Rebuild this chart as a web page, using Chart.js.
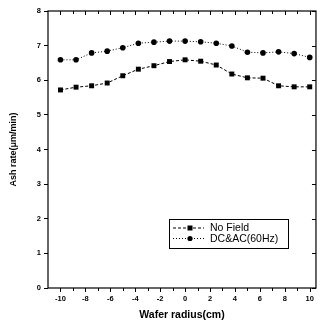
<!DOCTYPE html>
<html>
<head>
<meta charset="utf-8">
<script src="https://cdn.jsdelivr.net/npm/chart.js@4/dist/chart.umd.min.js"></script>
<style>
  html, body { margin: 0; padding: 0; background: #fff; }
  #wrap { width: 320px; height: 324px; position: relative; }
</style>
</head>
<body>
<div id="wrap"><canvas id="ashChart" width="320" height="324"></canvas></div>
<script>
// wafer radius positions (cm)
const radius = [-10, -8.75, -7.5, -6.25, -5, -3.75, -2.5, -1.25, 0, 1.25, 2.5, 3.75, 5, 6.25, 7.5, 8.75, 10];
// ash rate (um/min)
const noField = [5.72, 5.80, 5.84, 5.92, 6.13, 6.32, 6.42, 6.54, 6.59, 6.55, 6.44, 6.18, 6.07, 6.06, 5.84, 5.81, 5.81];
const dcAc = [6.59, 6.59, 6.79, 6.84, 6.94, 7.07, 7.10, 7.13, 7.13, 7.11, 7.07, 6.99, 6.81, 6.79, 6.82, 6.77, 6.66];
const seriesNames = ['No Field', 'DC&AC(60Hz)'];
const xTickValues = [-10, -9, -8, -7, -6, -5, -4, -3, -2, -1, 0, 1, 2, 3, 4, 5, 6, 7, 8, 9, 10];
const yTickValues = [0, 1, 2, 3, 4, 5, 6, 7, 8];

function toPoints(xs, ys) {
    let pts = [];
    for (let i = 0; i < xs.length; i++) {
        pts.push({ x: xs[i], y: ys[i] });
    }
    return pts;
}

/* frame, ticks and the legend box */
const framePlugin = {
    id: 'frame',
    afterDraw: function (chart) {
        const ctx = chart.ctx;
        const a = chart.chartArea;
        const xs = chart.scales.x;
        const ys = chart.scales.y;
        ctx.save();
        ctx.strokeStyle = '#000';
        ctx.lineWidth = 1.2;
        ctx.strokeRect(a.left, a.top, a.right - a.left, a.bottom - a.top);

        ctx.lineWidth = 1;
        ctx.beginPath();
        xTickValues.forEach(function (v) {
            const px = Math.round(xs.getPixelForValue(v)) + 0.5;
            const len = (v % 2 === 0) ? 4 : 3;
            ctx.moveTo(px, a.bottom);
            ctx.lineTo(px, a.bottom + len);
            ctx.moveTo(px, a.top);
            ctx.lineTo(px, a.top + len);
        });
        yTickValues.forEach(function (v) {
            const py = Math.round(ys.getPixelForValue(v)) + 0.5;
            ctx.moveTo(a.right, py);
            ctx.lineTo(a.right - 4, py);
        });
        ctx.stroke();

        // legend
        const bx = 169, by = 219, bw = 119, bh = 29;
        ctx.lineWidth = 1;
        ctx.strokeRect(bx + 0.5, by + 0.5, bw, bh);
        ctx.font = '10.5px "Liberation Sans", Arial, sans-serif';
        ctx.textBaseline = 'middle';
        ctx.fillStyle = '#000';
        chart.data.datasets.forEach(function (ds, i) {
            const ly = by + 9 + i * 10.5;
            ctx.setLineDash(ds.borderDash);
            ctx.beginPath();
            ctx.moveTo(bx + 4, ly);
            ctx.lineTo(bx + 35, ly);
            ctx.stroke();
            ctx.setLineDash([]);
            ctx.beginPath();
            if (ds.pointStyle === 'rect') {
                ctx.rect(bx + 21 - 2.5, ly - 2.5, 5, 5);
            } else {
                ctx.arc(bx + 21, ly, 2.6, 0, Math.PI * 2);
            }
            ctx.fill();
            ctx.fillText(ds.label, bx + 41, ly + 0.5);
        });
        ctx.restore();
    }
};

const ctx = document.getElementById('ashChart').getContext('2d');
const myChart = new Chart(ctx, {
    type: 'line',
    data: {
        datasets: [{
            label: seriesNames[0],
            data: toPoints(radius, noField),
            borderColor: '#000',
            backgroundColor: '#000',
            borderWidth: 1,
            borderDash: [3, 2],
            pointStyle: 'rect',
            pointRadius: 3.5,
            pointBorderWidth: 0,
            tension: 0
        }, {
            label: seriesNames[1],
            data: toPoints(radius, dcAc),
            borderColor: '#000',
            backgroundColor: '#000',
            borderWidth: 1,
            borderDash: [1, 2],
            pointStyle: 'circle',
            pointRadius: 2.8,
            pointBorderWidth: 0,
            tension: 0
        }]
    },
    options: {
        responsive: false,
        animation: false,
        layout: { padding: { top: 11, right: 4 } },
        plugins: {
            legend: { display: false },
            tooltip: { enabled: false }
        },
        scales: {
            x: {
                type: 'linear',
                min: -11,
                max: 10.5,
                afterBuildTicks: function (axis) {
                    axis.ticks = [-10, -8, -6, -4, -2, 0, 2, 4, 6, 8, 10].map(function (v) { return { value: v }; });
                },
                afterFit: function (axis) { axis.height = 36; },
                grid: { display: false, drawTicks: false },
                border: { display: false },
                ticks: {
                    color: '#000',
                    padding: 6,
                    maxRotation: 0,
                    font: { family: '"Liberation Sans", Arial, sans-serif', size: 7.5, weight: 'bold' }
                },
                title: {
                    display: true,
                    text: 'Wafer radius(cm)',
                    color: '#000',
                    padding: { top: 0, bottom: 3 },
                    font: { family: '"Liberation Sans", Arial, sans-serif', size: 10.5, weight: 'bold' }
                }
            },
            y: {
                min: 0,
                max: 8,
                afterBuildTicks: function (axis) {
                    axis.ticks = yTickValues.map(function (v) { return { value: v }; });
                },
                afterFit: function (axis) { axis.width = 48; },
                grid: { drawOnChartArea: false, drawTicks: true, tickLength: 4, color: '#000' },
                border: { display: false },
                ticks: {
                    color: '#000',
                    padding: 3,
                    font: { family: '"Liberation Sans", Arial, sans-serif', size: 7.5, weight: 'bold' }
                },
                title: {
                    display: true,
                    text: 'Ash rate(\u03bcm/min)',
                    color: '#000',
                    padding: { top: 8, bottom: 0 },
                    font: { family: '"Liberation Sans", Arial, sans-serif', size: 9, weight: 'bold' }
                }
            }
        }
    },
    plugins: [framePlugin]
});
</script>
</body>
</html>
